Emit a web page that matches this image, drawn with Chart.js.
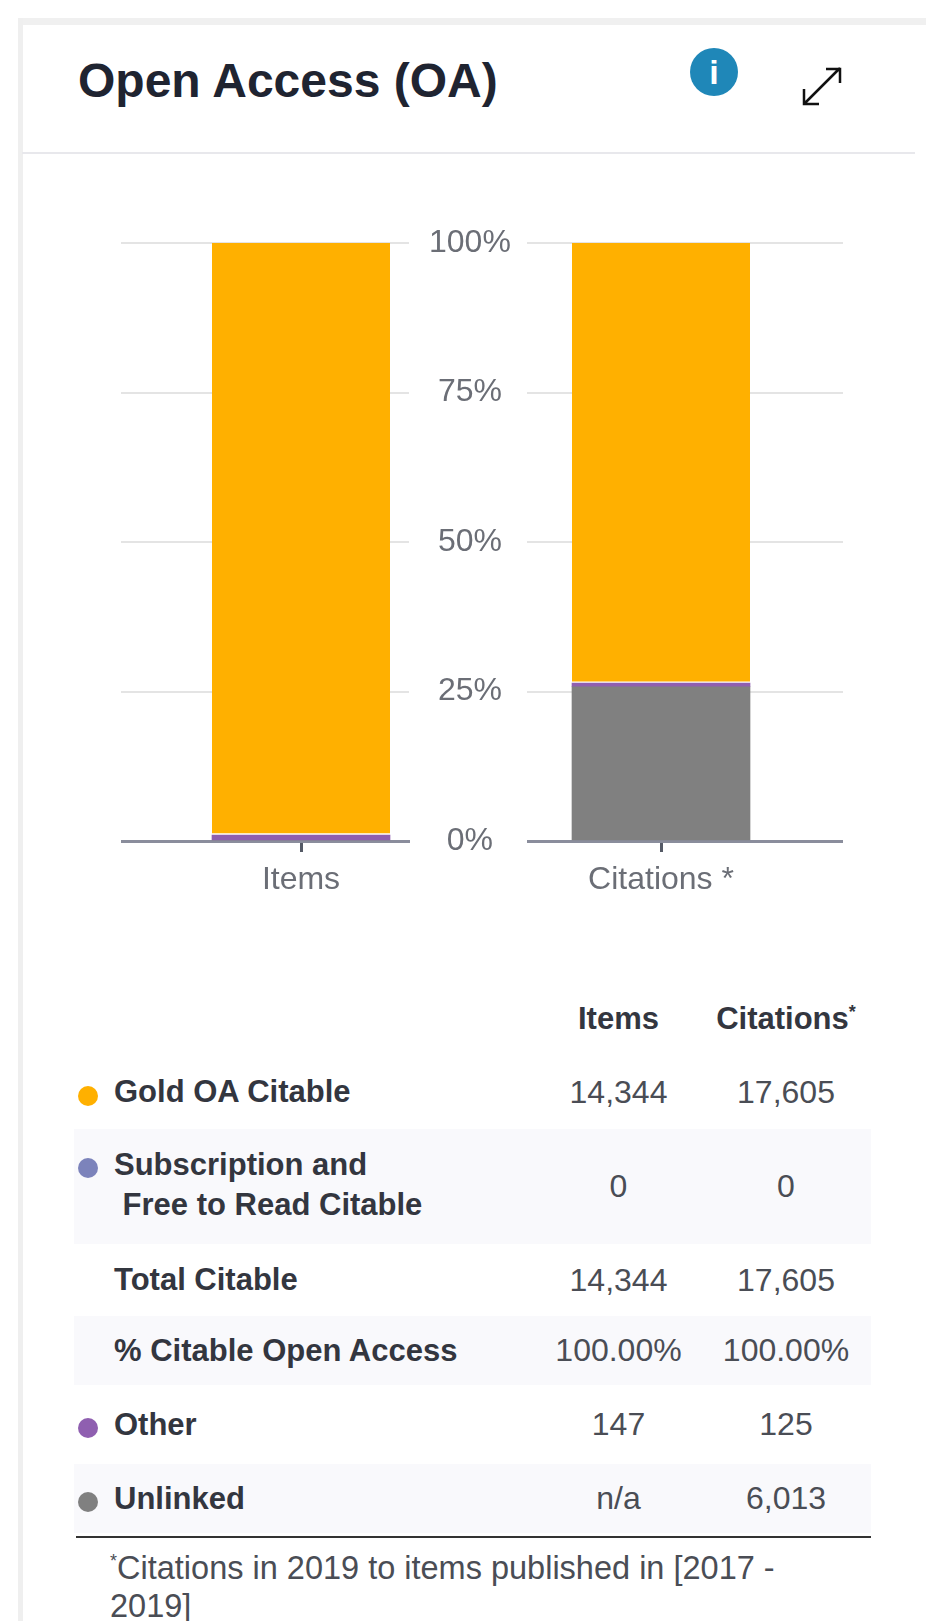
<!DOCTYPE html>
<html>
<head>
<meta charset="utf-8">
<title>Open Access (OA)</title>
<script src="https://cdn.jsdelivr.net/npm/chart.js@4"></script>
<style>
  html, body { margin: 0; padding: 0; background: #fff; }
  body { width: 926px; height: 1621px; position: relative; overflow: hidden; font-family: "Liberation Sans", Arial, sans-serif; color: #2c303a; }
  .topband { position: absolute; left: 18px; top: 18px; right: 0; height: 7px; background: #f0f0f0; }
  .leftband { position: absolute; left: 18px; top: 18px; width: 5px; bottom: 0; background: #efefef; }
  .divider { position: absolute; left: 22px; right: 11px; top: 152px; height: 2px; background: #e8e8ec; }
  h1 { position: absolute; left: 78px; top: 55px; margin: 0; font-size: 48px; line-height: 52px; font-weight: bold; color: #1f2431; white-space: nowrap; }
  .info { position: absolute; left: 690px; top: 48px; width: 48px; height: 48px; border-radius: 50%; background: #1f87b8; color: #fff; font: bold 34px/48px "Liberation Sans", sans-serif; text-align: center; }
  .expand { position: absolute; left: 800px; top: 64px; }
  canvas { position: absolute; }
  table { position: absolute; left: 74px; top: 983px; width: 797px; border-collapse: collapse; table-layout: fixed; font-size: 32px; }
  td, th { padding: 0; text-align: center; vertical-align: middle; font-weight: normal; color: #4a4d55; }
  th { font-weight: bold; color: #33363f; font-size: 31px; }
  td.name { text-align: left; padding-left: 40px; position: relative; font-weight: bold; color: #33363f; font-size: 31px; line-height: 40px; white-space: nowrap; }
  tr.band td { background: #f9f9fc; }
  tr.tall td.name { padding-bottom: 4px; }
  .dot { position: absolute; left: 4px; width: 20px; height: 20px; border-radius: 50%; }
  sup { font-size: 18px; line-height: 0; }
  .rule { position: absolute; left: 76px; width: 795px; top: 1536px; height: 2px; background: #333; }
  .note { position: absolute; left: 110px; top: 1549px; width: 720px; font-size: 32.5px; line-height: 38px; color: #4a4d55; }
</style>
</head>
<body>
<div class="topband"></div>
<div class="leftband"></div>
<h1>Open Access (OA)</h1>
<div class="info">i</div>
<svg class="expand" width="44" height="44" viewBox="0 0 44 44" fill="none" stroke="#111" stroke-width="2.5">
  <path d="M4 40 L40 4 M26 5 H40 V19 M4 25 V40 H19"/>
</svg>
<div class="divider"></div>

<canvas id="graficoItems" width="406" height="725" style="left:121px;top:200px;width:406px;height:725px"></canvas>
<canvas id="graficoCitations" width="316" height="725" style="left:527px;top:200px;width:316px;height:725px"></canvas>

<table id="tabela"></table>
<div class="rule"></div>
<div class="note"><sup>*</sup>Citations in 2019 to items published in [2017 - 2019]</div>

<script>
const categories = ['Items', 'Citations *'];
const yTickLabels = ['0%', '25%', '50%', '75%', '100%'];

// bar shares in %
const unlinkedShare = [0, 25.8];
const otherShare = [1.0, 0.6];
const goldShare = [99.0, 73.6];

const rowNames = ['Gold OA Citable', 'Subscription and<br>&nbsp;Free to Read Citable', 'Total Citable', '% Citable Open Access', 'Other', 'Unlinked'];
const itemsColumn = ['14,344', '0', '14,344', '100.00%', '147', 'n/a'];
const citationsColumn = ['17,605', '0', '17,605', '100.00%', '125', '6,013'];
const rowColors = ['#ffb000', '#7c83bb', null, null, '#8f5fb0', '#808080'];

const gold = '#ffb000', purple = '#8f5fb0', gray = '#808080';

function makeChart(id, idx, xMin, xMax, showY) {
  const ctx = document.getElementById(id).getContext('2d');
  return new Chart(ctx, {
    type: 'bar',
    data: {
      datasets: [
        { data: [{ x: idx, y: unlinkedShare[idx] }], backgroundColor: gray, borderWidth: 0 },
        { data: [{ x: idx, y: otherShare[idx] }], backgroundColor: purple, borderWidth: 0 },
        { data: [{ x: idx, y: goldShare[idx] }], backgroundColor: gold, borderColor: '#fff', borderWidth: { bottom: 2 }, borderSkipped: false }
      ]
    },
    options: {
      responsive: false,
      animation: false,
      barThickness: 178,
      layout: { padding: { top: 43, left: 0, right: 0, bottom: 0 } },
      plugins: { legend: { display: false }, tooltip: { enabled: false } },
      scales: {
        x: {
          type: 'linear',
          stacked: true,
          offset: false,
          min: xMin,
          max: xMax,
          afterBuildTicks: axis => { axis.ticks = [{ value: idx }]; },
          afterFit: axis => { axis.height = 84; axis.paddingLeft = 0; axis.paddingRight = 0; },
          grid: { offset: false, drawOnChartArea: false, drawTicks: true, tickLength: 11, tickWidth: 3, tickColor: '#555a66' },
          border: { color: '#8a8d9c', width: 3 },
          ticks: {
            callback: v => categories[v],
            autoSkip: false,
            maxRotation: 0,
            padding: 9,
            color: '#6b6e76',
            font: { family: 'Liberation Sans', size: 32 }
          }
        },
        y: {
          position: 'right',
          stacked: true,
          min: 0,
          max: 100,
          afterFit: axis => { axis.width = showY ? 118 : 0; },
          grid: { color: '#e4e4e4', lineWidth: 2, drawTicks: false },
          border: { display: false },
          ticks: {
            display: showY,
            stepSize: 25,
            callback: v => yTickLabels[v / 25],
            crossAlign: 'center',
            padding: 20,
            color: '#6b6e76',
            font: { family: 'Liberation Sans', size: 32 }
          }
        }
      }
    }
  });
}

makeChart('graficoItems', 0, -1.0, 0.6, true);
makeChart('graficoCitations', 1, 0.2556, 2.011, false);

// table under the chart
const rowHeights = [72, 74, 115, 72, 69, 79, 69];
const dotTops = [31, 29, 0, 0, 33, 28];
let html = '<colgroup><col style="width:462px"><col style="width:165px"><col style="width:170px"></colgroup>';
html += '<tr style="height:' + rowHeights[0] + 'px"><th></th><th>Items</th><th>Citations<sup>*</sup></th></tr>';
rowNames.forEach((name, i) => {
  const dot = rowColors[i] ? '<span class="dot" style="background:' + rowColors[i] + ';top:' + dotTops[i] + 'px"></span>' : '';
  const cls = (i % 2 ? 'band' : '') + (i === 1 ? ' tall' : '');
  html += '<tr class="' + cls + '" style="height:' + rowHeights[i + 1] + 'px">' +
    '<td class="name">' + dot + name + '</td><td>' + itemsColumn[i] + '</td><td>' + citationsColumn[i] + '</td></tr>';
});
document.getElementById('tabela').innerHTML = html;
</script>
</body>
</html>
